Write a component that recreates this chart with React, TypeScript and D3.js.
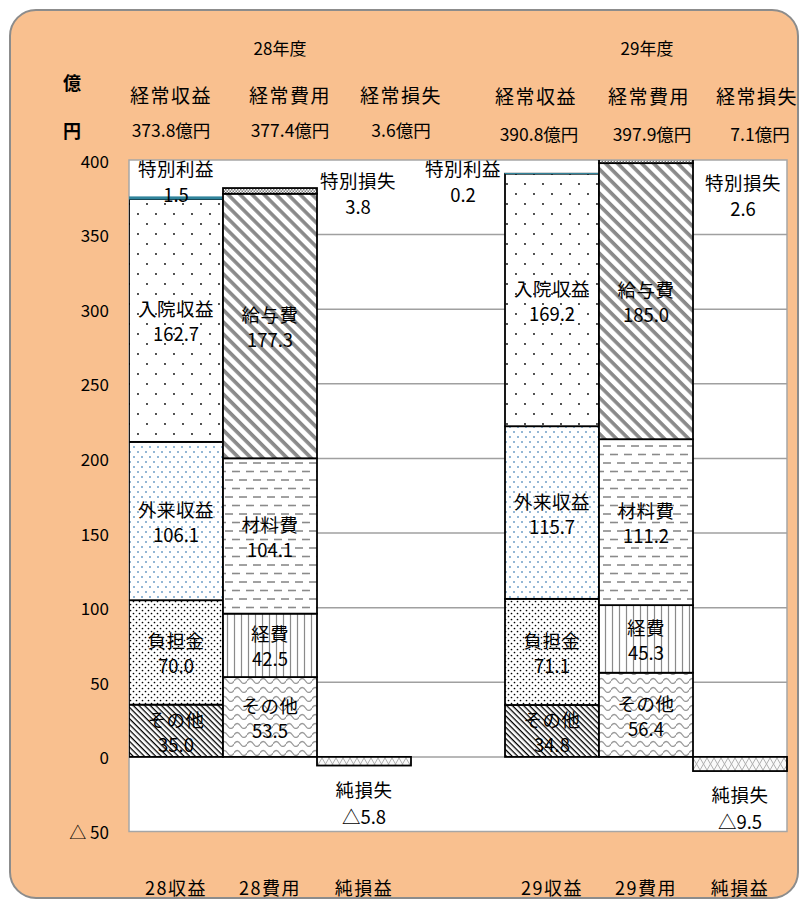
import React from 'react';
import * as d3 from 'd3';

// ---- data ----
const columns = ['28収益', '28費用', '純損益', '', '29収益', '29費用', '純損益'];
const fiscalYears = ['28年度', '29年度'];
const summaryTitles = ['経常収益', '経常費用', '経常損失'];
const summary28 = [373.8, 377.4, 3.6];
const summary29 = [390.8, 397.9, 7.1];
const revenueNames = ['その他', '負担金', '外来収益', '入院収益', '特別利益'];
const revenue28 = [35.0, 70.0, 106.1, 162.7, 1.5];
const revenue29 = [34.8, 71.1, 115.7, 169.2, 0.2];
const expenseNames = ['その他', '経費', '材料費', '給与費', '特別損失'];
const expense28 = [53.5, 42.5, 104.1, 177.3, 3.8];
const expense29 = [56.4, 45.3, 111.2, 185.0, 2.6];
const netLossName = '純損失';
const netLoss = [-5.8, -9.5];
const yTicks = [-50, 0, 50, 100, 150, 200, 250, 300, 350, 400];

const revenuePatterns = ['p-otherRev', 'p-burden', 'p-outpatient', 'p-inpatient', 'p-specialGain'];
const expensePatterns = ['p-otherExp', 'p-expense', 'p-material', 'p-salary', 'p-specialLoss'];

const FONT = "'Noto Sans CJK JP', 'Noto Sans', sans-serif";
const LABEL_SIZE = 18.5;

const x = d3.scaleBand<number>().domain(d3.range(columns.length)).range([129, 787]).padding(0);
const y = d3.scaleLinear().domain([-50, 400]).range([831.5, 160]);
const fmt = (v: number) => v.toFixed(1);

function stackSegments(values: number[]) {
  const ends = d3.cumsum(values);
  return values.map((v, i) => ({ v, y0: ends[i] - v, y1: ends[i], i }));
}

function Patterns() {
  return (
    <defs>
      <clipPath id="plotClip">
        <rect x={129} y={160} width={658} height={671.5} />
      </clipPath>
      <pattern id="p-inpatient" width={18} height={20} patternUnits="userSpaceOnUse">
        <rect width={18} height={20} fill="#fff" />
        <circle cx={3} cy={4} r={0.9} fill="#000" />
        <circle cx={12} cy={14} r={0.9} fill="#000" />
      </pattern>
      <pattern id="p-outpatient" width={8} height={10} patternUnits="userSpaceOnUse">
        <rect width={8} height={10} fill="#fff" />
        <circle cx={2} cy={2} r={1} fill="#6f9fc8" />
        <circle cx={6} cy={7} r={1} fill="#6f9fc8" />
      </pattern>
      <pattern id="p-burden" width={6} height={6} patternUnits="userSpaceOnUse">
        <rect width={6} height={6} fill="#fff" />
        <circle cx={1.5} cy={1.5} r={0.85} fill="#000" />
        <circle cx={4.5} cy={4.5} r={0.85} fill="#000" />
      </pattern>
      <pattern id="p-otherRev" width={4} height={4} patternUnits="userSpaceOnUse" patternTransform="rotate(45)">
        <rect width={4} height={4} fill="#fff" />
        <rect width={4} height={1.3} fill="#000" />
      </pattern>
      <pattern id="p-specialGain" width={4} height={4} patternUnits="userSpaceOnUse">
        <rect width={4} height={4} fill="#31859c" />
      </pattern>
      <pattern id="p-salary" width={8.5} height={8.5} patternUnits="userSpaceOnUse" patternTransform="rotate(45)">
        <rect width={8.5} height={8.5} fill="#fff" />
        <rect width={8.5} height={3.6} fill="#8a8a8a" />
      </pattern>
      <pattern id="p-material" width={14} height={17} patternUnits="userSpaceOnUse">
        <rect width={14} height={17} fill="#fff" />
        <line x1={1} y1={4} x2={9} y2={4} stroke="#8a8a8a" strokeWidth={1.6} />
        <line x1={8} y1={12.5} x2={14} y2={12.5} stroke="#8a8a8a" strokeWidth={1.6} />
        <line x1={0} y1={12.5} x2={2} y2={12.5} stroke="#8a8a8a" strokeWidth={1.6} />
      </pattern>
      <pattern id="p-expense" width={7} height={10} patternUnits="userSpaceOnUse">
        <rect width={7} height={10} fill="#fff" />
        <line x1={3.5} y1={0} x2={3.5} y2={10} stroke="#8a8a8a" strokeWidth={1.2} />
      </pattern>
      <pattern id="p-otherExp" width={13} height={9} patternUnits="userSpaceOnUse">
        <rect width={13} height={9} fill="#fff" />
        <path d="M0 6 Q3.25 1 6.5 6 T13 6" fill="none" stroke="#9a9a9a" strokeWidth={1.3} />
      </pattern>
      <pattern id="p-specialLoss" width={3} height={3} patternUnits="userSpaceOnUse">
        <rect width={3} height={3} fill="#fff" />
        <rect width={1.5} height={1.5} fill="#777" />
        <rect x={1.5} y={1.5} width={1.5} height={1.5} fill="#777" />
      </pattern>
      <pattern id="p-netloss" width={14} height={12} patternUnits="userSpaceOnUse" y={758}>
        <rect width={14} height={12} fill="#fafafa" />
        <path d="M0 0 L7 12 L14 0 M0 12 L7 0 L14 12" fill="none" stroke="#b0b0b0" strokeWidth={1} />
      </pattern>
    </defs>
  );
}

function StackedBar({ col, values, names, patterns }: { col: number; values: number[]; names: string[]; patterns: string[] }) {
  const segs = stackSegments(values);
  const x0 = x(col)!;
  const w = x.bandwidth();
  const cx = x0 + w / 2;
  const last = segs.length - 1;
  return (
    <g>
      <g clipPath="url(#plotClip)">
        {segs.map((s) => {
          const top = y(s.y1);
          const h = y(s.y0) - top;
          const isGain = patterns[s.i] === 'p-specialGain';
          return (
            <rect
              key={s.i}
              x={x0}
              y={top}
              width={w}
              height={Math.max(h, 0.3)}
              fill={`url(#${patterns[s.i]})`}
              stroke={isGain ? '#31859c' : '#000'}
              strokeWidth={isGain ? 0.8 : 1.8}
            />
          );
        })}
      </g>
      {segs.slice(0, last).map((s) => {
        const mid = y((s.y0 + s.y1) / 2);
        return (
          <g key={'l' + s.i} fontFamily={FONT} fontSize={LABEL_SIZE} fill="#000" textAnchor="middle">
            <text x={cx} y={mid - 12} dominantBaseline="central" letterSpacing={0.5}>{names[s.i]}</text>
            <text x={cx} y={mid + 13} dominantBaseline="central">{fmt(s.v)}</text>
          </g>
        );
      })}
    </g>
  );
}

function NetBar({ col, value }: { col: number; value: number }) {
  const x0 = x(col)!;
  const w = x.bandwidth();
  const cx = x0 + w / 2;
  const top = y(0);
  const bottom = y(value);
  return (
    <g>
      <rect x={x0} y={top} width={w} height={bottom - top} fill="url(#p-netloss)" stroke="#000" strokeWidth={1.8} />
      <g fontFamily={FONT} fontSize={LABEL_SIZE} fill="#000" textAnchor="middle">
        <text x={cx} y={bottom + 23} dominantBaseline="central" letterSpacing={0.5}>{netLossName}</text>
        <text x={cx} y={bottom + 50} dominantBaseline="central">{'△' + Math.abs(value).toFixed(1)}</text>
      </g>
    </g>
  );
}

function SpecialLabel({ col, name, value, dy, dx }: { col: number; name: string; value: number; dy: number; dx: number }) {
  const cx = x(col)! + x.bandwidth() / 2 + dx;
  return (
    <g fontFamily={FONT} fontSize={LABEL_SIZE} fill="#000" textAnchor="middle">
      <text x={cx} y={y(400) + dy} dominantBaseline="central" letterSpacing={0.5}>{name}</text>
      <text x={cx} y={y(400) + dy + 26} dominantBaseline="central">{fmt(value)}</text>
    </g>
  );
}

function Header() {
  const centers28 = [171, 290, 401];
  const centers29 = [536, 649, 757];
  return (
    <g fontFamily={FONT} fill="#000" textAnchor="middle">
      <text x={280} y={47} fontSize={17} dominantBaseline="central">{fiscalYears[0]}</text>
      <text x={647} y={47} fontSize={17} dominantBaseline="central">{fiscalYears[1]}</text>
      <text x={72} y={82} fontSize={18} fontWeight="bold" dominantBaseline="central">億</text>
      <text x={72} y={130} fontSize={18} fontWeight="bold" dominantBaseline="central">円</text>
      {summaryTitles.map((t, i) => (
        <text key={'a' + i} x={centers28[i]} y={94} fontSize={19} letterSpacing={1.5} dominantBaseline="central">{t}</text>
      ))}
      {summaryTitles.map((t, i) => (
        <text key={'b' + i} x={centers29[i]} y={95} fontSize={19} letterSpacing={1.5} dominantBaseline="central">{t}</text>
      ))}
      {summary28.map((v, i) => (
        <text key={'c' + i} x={centers28[i]} y={129} fontSize={17.5} dominantBaseline="central">{fmt(v) + '億円'}</text>
      ))}
      {summary29.map((v, i) => (
        <text key={'d' + i} x={centers29[i] + 3} y={133} fontSize={17.5} dominantBaseline="central">{fmt(v) + '億円'}</text>
      ))}
    </g>
  );
}

export default function App() {
  return (
    <svg width={800} height={899} style={{ position: 'absolute', left: 0, top: 0, display: 'block' }}>
      <Patterns />
      <rect x={0} y={0} width={800} height={899} fill="#fff" />
      <rect x={10} y={10} width={788} height={888} rx={26} ry={26} fill="#f9c08f" stroke="#8c8c8c" strokeWidth={2} />
      <Header />
      {/* plot area */}
      <rect x={129} y={160} width={658} height={671.5} fill="#fff" stroke="#a6a6a6" strokeWidth={1.5} />
      {yTicks.filter((t) => t >= 0 && t < 400).map((t) => (
        <line key={t} x1={129} x2={787} y1={y(t)} y2={y(t)} stroke="#a0a0a0" strokeWidth={1.5} />
      ))}
      <g fontFamily={FONT} fontSize={17} fill="#000" textAnchor="end">
        {yTicks.map((t) => (
          <text key={t} x={109} y={y(t)} dominantBaseline="central">{t < 0 ? `△ ${-t}` : String(t)}</text>
        ))}
      </g>
      <StackedBar col={0} values={revenue28} names={revenueNames} patterns={revenuePatterns} />
      <StackedBar col={1} values={expense28} names={expenseNames} patterns={expensePatterns} />
      <StackedBar col={4} values={revenue29} names={revenueNames} patterns={revenuePatterns} />
      <StackedBar col={5} values={expense29} names={expenseNames} patterns={expensePatterns} />
      <NetBar col={2} value={netLoss[0]} />
      <NetBar col={6} value={netLoss[1]} />
      <SpecialLabel col={0} name={revenueNames[4]} value={revenue28[4]} dy={8} dx={0} />
      <SpecialLabel col={2} name={expenseNames[4]} value={expense28[4]} dy={20} dx={-6} />
      <SpecialLabel col={3} name={revenueNames[4]} value={revenue29[4]} dy={8} dx={5} />
      <SpecialLabel col={6} name={expenseNames[4]} value={expense29[4]} dy={22} dx={3} />
      <g fontFamily={FONT} fontSize={18} fill="#000" textAnchor="middle" letterSpacing={1.5}>
        {columns.map((c, i) => (
          <text key={i} x={x(i)! + x.bandwidth() / 2} y={887} dominantBaseline="central">{c}</text>
        ))}
      </g>
    </svg>
  );
}
